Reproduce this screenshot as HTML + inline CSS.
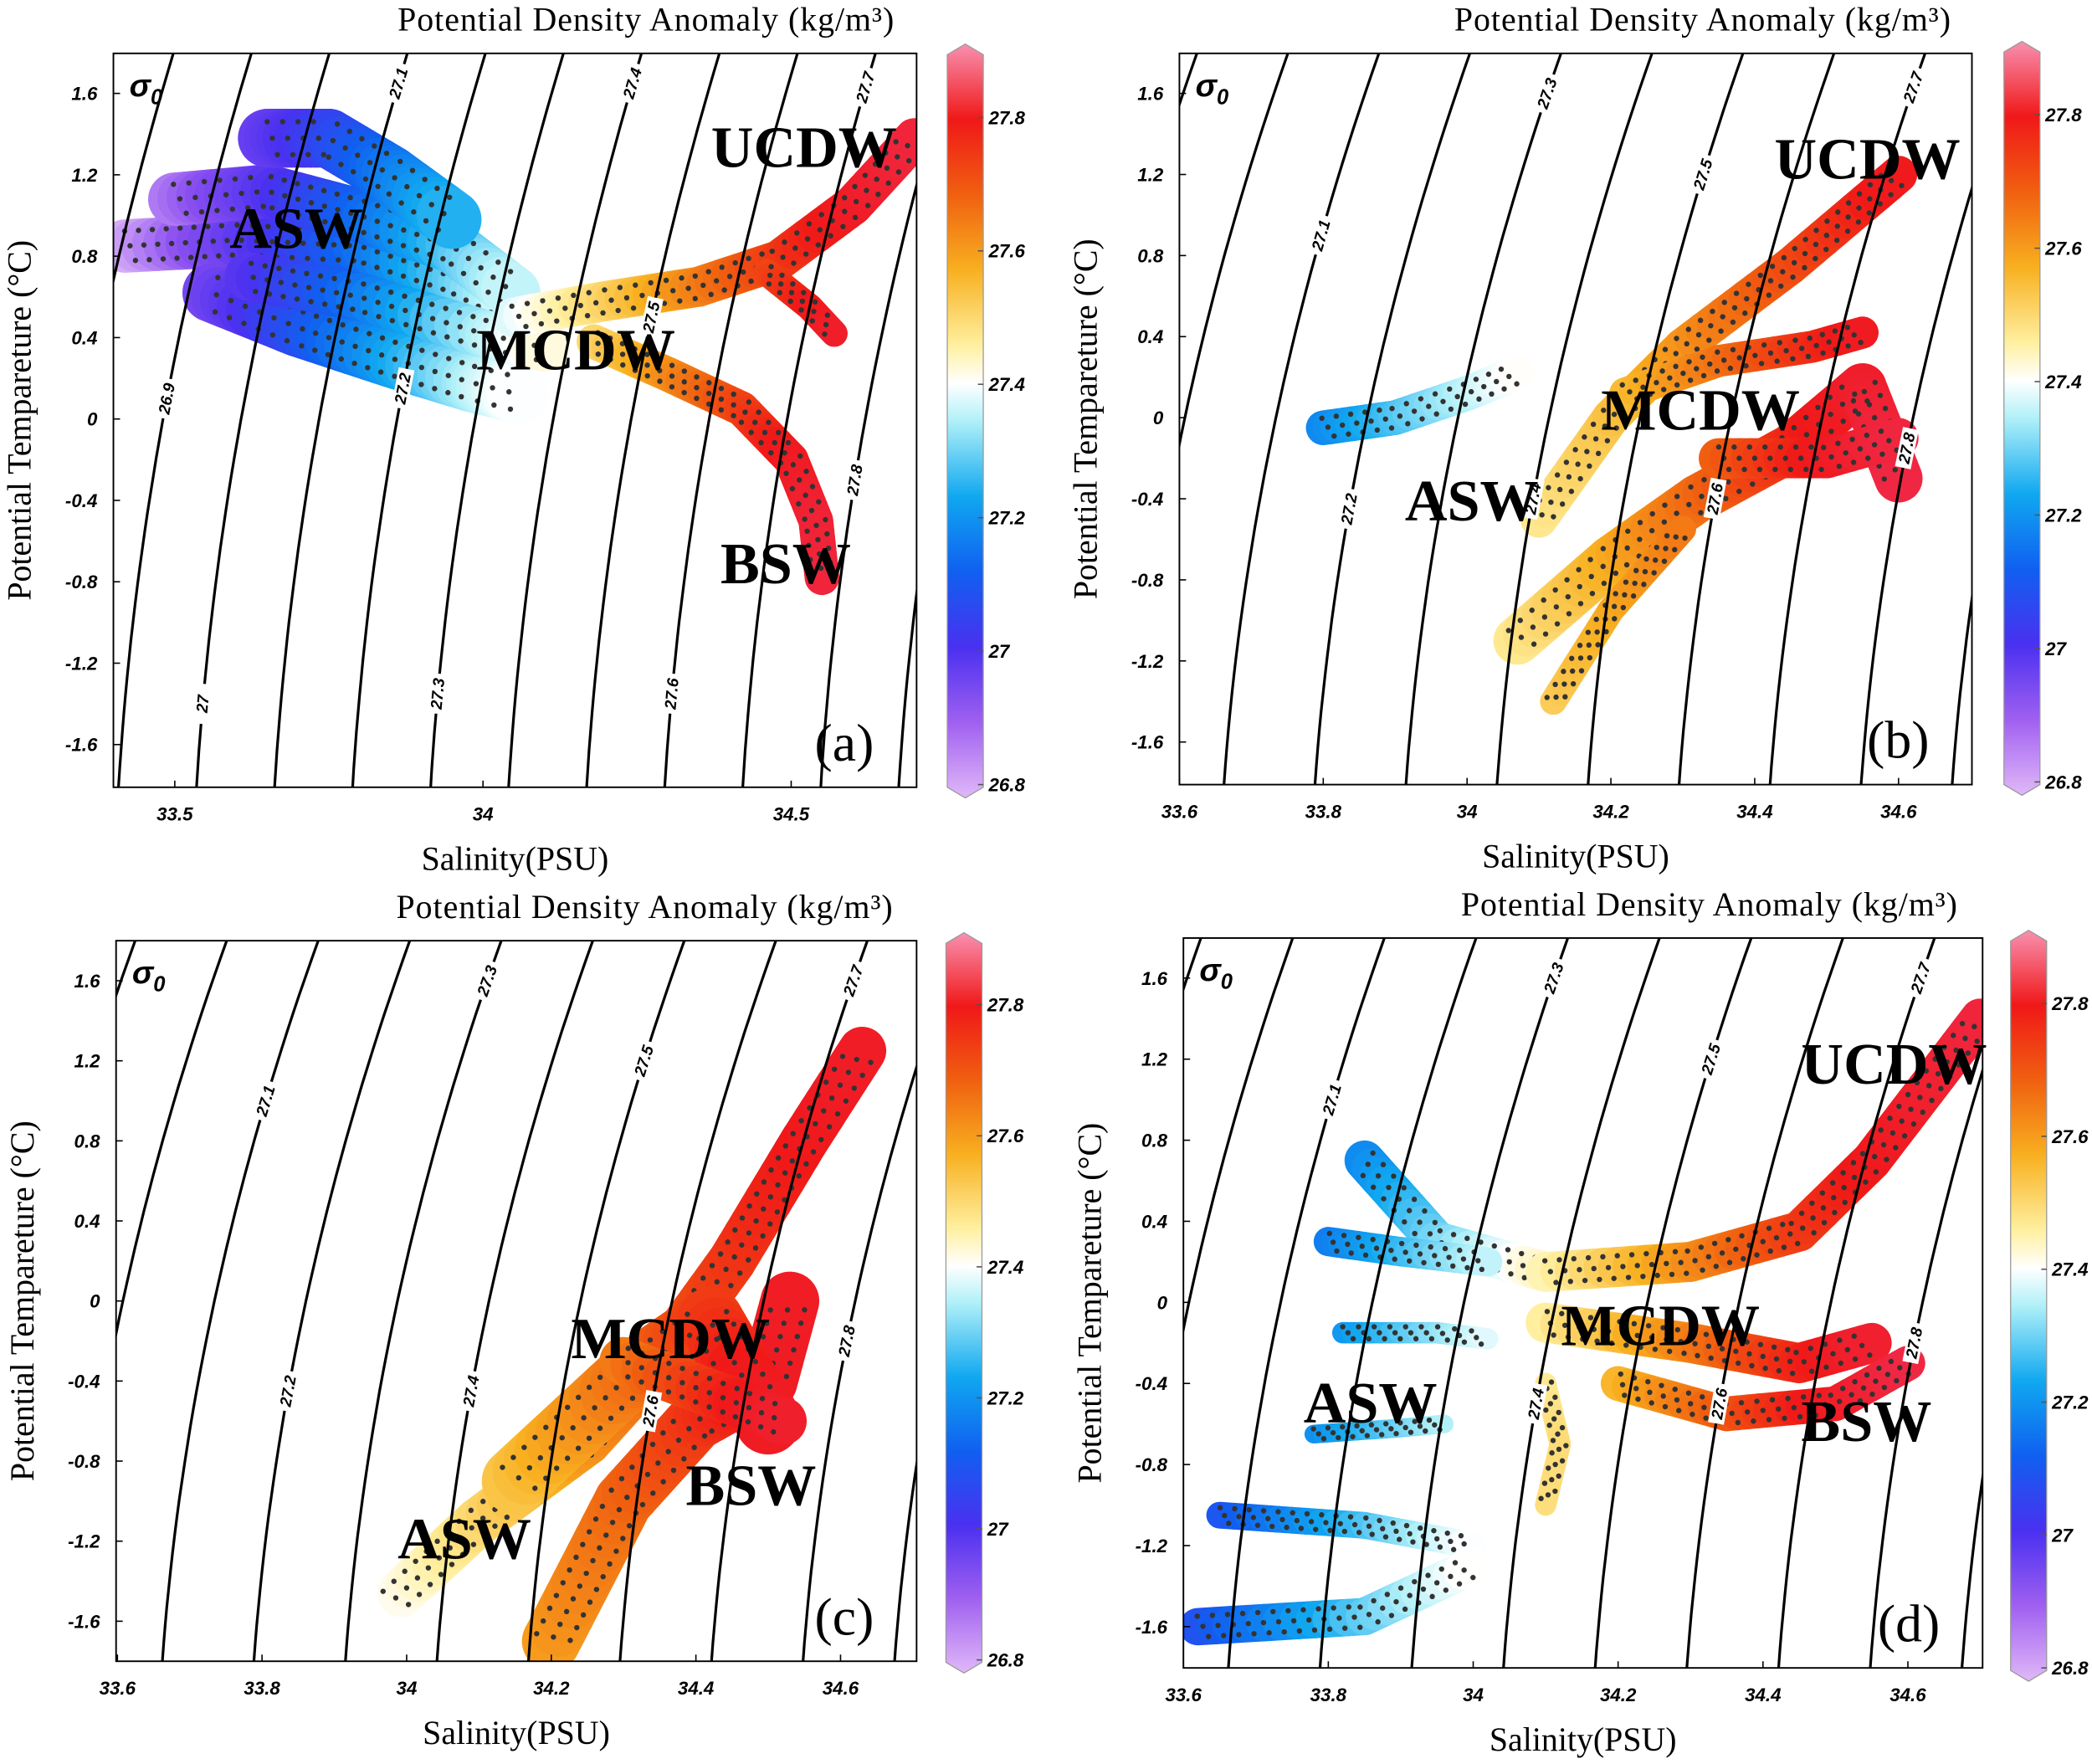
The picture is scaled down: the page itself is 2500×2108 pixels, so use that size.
<!DOCTYPE html>
<html><head><meta charset="utf-8"><style>
html,body{margin:0;padding:0;background:#fff}
svg{display:block}
</style></head><body>
<svg id="fig" xmlns="http://www.w3.org/2000/svg" width="2500" height="2108" viewBox="0 0 1568 1322" preserveAspectRatio="none">
<defs>
<linearGradient id="cbar" x1="0" y1="1" x2="0" y2="0">
<stop offset="0" stop-color="#e0b8f8"/><stop offset="0.1" stop-color="#a060f0"/><stop offset="0.2" stop-color="#4a30f0"/><stop offset="0.3" stop-color="#1060f0"/><stop offset="0.4" stop-color="#10a8f0"/><stop offset="0.5" stop-color="#b0f0f8"/><stop offset="0.55" stop-color="#ffffff"/><stop offset="0.6" stop-color="#fff0a0"/><stop offset="0.7" stop-color="#f8b020"/><stop offset="0.8" stop-color="#f06010"/><stop offset="0.9" stop-color="#f01818"/><stop offset="1" stop-color="#f890b0"/>
</linearGradient>
</defs>
</svg>
<script>
// ---- data arrays ----
const isoLevels = [26.7,26.8,26.9,27.0,27.1,27.2,27.3,27.4,27.5,27.6,27.7,27.8,27.9,28.0,28.1];
const cbarTicks = [26.8,27.0,27.2,27.4,27.6,27.8];
const cbarTickLabels = ["26.8","27","27.2","27.4","27.6","27.8"];
const tempTicks = [1.6,1.2,0.8,0.4,0,-0.4,-0.8,-1.2,-1.6];
const tempTickLabels = ["1.6","1.2","0.8","0.4","0","-0.4","-0.8","-1.2","-1.6"];
const salTicksA = [33.5,34,34.5];
const salTickLabelsA = ["33.5","34","34.5"];
const salTicksB = [33.6,33.8,34,34.2,34.4,34.6];
const salTickLabelsB = ["33.6","33.8","34","34.2","34.4","34.6"];
// water mass branches: [salinity, temperature] and band widths (px)
const branchesA = [
 [[33.42,0.85],[33.6,0.88],[33.8,0.85],[33.95,0.7],[34.05,0.55]],
 [[33.5,1.08],[33.65,1.12],[33.8,1.0],[33.95,0.85],[34.05,0.62]],
 [[33.65,1.38],[33.75,1.38],[33.85,1.2],[33.95,0.98]],
 [[33.56,0.62],[33.7,0.45],[33.85,0.3],[33.98,0.18],[34.06,0.12]],
 [[33.62,0.7],[33.8,0.6],[34.0,0.42],[34.1,0.35]],
 [[34.05,0.5],[34.2,0.58],[34.35,0.65],[34.48,0.78],[34.6,1.05],[34.7,1.38]],
 [[34.18,0.38],[34.3,0.22],[34.42,0.05],[34.5,-0.2],[34.54,-0.5],[34.55,-0.78]],
 [[34.46,0.72],[34.53,0.55],[34.57,0.42]]
];
const widthsA = [40,40,44,44,36,30,26,20];
const branchesB = [
 [[33.8,-0.05],[33.9,0.0],[34.0,0.12],[34.07,0.22]],
 [[34.1,-0.5],[34.2,0.0],[34.3,0.35],[34.45,0.75],[34.6,1.2]],
 [[34.22,0.12],[34.35,0.28],[34.48,0.35],[34.55,0.42]],
 [[34.07,-1.1],[34.2,-0.7],[34.32,-0.4],[34.45,-0.15],[34.55,0.15],[34.6,-0.3]],
 [[34.12,-1.4],[34.2,-0.95],[34.3,-0.55]],
 [[34.35,-0.2],[34.5,-0.2],[34.6,-0.1]]
];
const widthsB = [26,28,24,36,20,30];
const branchesC = [
 [[33.98,-1.5],[34.1,-1.1],[34.25,-0.7],[34.35,-0.3],[34.45,0.2],[34.55,0.8],[34.63,1.25]],
 [[34.2,-1.7],[34.3,-1.0],[34.4,-0.6],[34.5,-0.4],[34.53,0.0]],
 [[34.15,-0.9],[34.3,-0.4],[34.42,-0.1],[34.5,-0.6]],
 [[34.3,-0.3],[34.45,-0.5],[34.52,-0.6]]
];
const widthsC = [36,44,50,36];
const branchesD = [
 [[33.85,0.7],[33.95,0.3],[34.1,0.15]],
 [[33.8,0.3],[33.9,0.25],[34.02,0.2]],
 [[33.82,-0.15],[33.95,-0.15],[34.02,-0.18]],
 [[33.78,-0.65],[33.9,-0.62],[33.96,-0.6]],
 [[33.65,-1.05],[33.85,-1.1],[34.0,-1.2]],
 [[33.62,-1.6],[33.85,-1.55],[34.0,-1.3]],
 [[34.1,0.15],[34.3,0.2],[34.45,0.35],[34.55,0.7],[34.7,1.4]],
 [[34.1,-0.1],[34.3,-0.2],[34.45,-0.3],[34.55,-0.2]],
 [[34.2,-0.4],[34.35,-0.55],[34.5,-0.5],[34.6,-0.3]],
 [[34.1,-0.4],[34.12,-0.7],[34.1,-1.0]]
];
const widthsD = [30,22,16,14,20,28,30,30,26,16];

// ---- helpers ----
const NS = "http://www.w3.org/2000/svg";
const svg = document.getElementById('fig');
function mk(tag, attrs, parent){ const e=document.createElementNS(NS,tag); for(const k in attrs) e.setAttribute(k,attrs[k]); (parent||svg).appendChild(e); return e; }
function sigma(S,T){ return 27.31 + 0.79*(S-34) - 0.0473*T - 0.0087*T*T; }
function salAt(sig,T){ return 34 + (sig-27.31+0.0473*T+0.0087*T*T)/0.79; }
const cstops=[[26.8,[224,184,248]],[26.9,[140,80,240]],[27.0,[74,48,240]],[27.1,[16,96,240]],[27.2,[16,168,240]],[27.3,[176,240,248]],[27.35,[255,255,255]],[27.4,[255,240,160]],[27.5,[248,176,32]],[27.6,[240,96,16]],[27.7,[240,24,24]],[27.8,[240,40,70]],[27.9,[248,144,176]]];
function cmap(s){ if(s<=cstops[0][0]) return 'rgb('+cstops[0][1]+')'; for(let i=1;i<cstops.length;i++){ if(s<=cstops[i][0]){ const a=cstops[i-1],b=cstops[i],t=(s-a[0])/(b[0]-a[0]); return 'rgb('+a[1].map((v,j)=>Math.round(v+(b[1][j]-v)*t)).join(',')+')'; } } return 'rgb('+cstops[cstops.length-1][1]+')'; }

function panel(p){
  const g = mk('g',{});
  
  
  const sx = S => p.x0 + (S-p.s0)*p.kx;
  const ty = T => p.y16 + (1.6-T)*p.ky;
  const Tt = 1.6 + (p.y16-p.top)/p.ky, Tb = 1.6 - (p.bot-p.y16)/p.ky;
  const cid='clip'+p.id;
  const cp=mk('clipPath',{id:cid},g); mk('rect',{x:p.left,y:p.top,width:p.right-p.left,height:p.bot-p.top},cp);
  const plot=mk('g',{'clip-path':'url(#'+cid+')'},g);
  
  
  p.br.forEach((br,bi)=>{
    const bg=mk('g',{},plot);
    
    
    for(let i=0;i<br.length-1;i++){
      const [S1,T1]=br[i],[S2,T2]=br[i+1];
      const n=10;
      for(let k=0;k<n;k++){
        const a=k/n,b=(k+1)/n;
        const Sa=S1+(S2-S1)*a,Ta=T1+(T2-T1)*a,Sb=S1+(S2-S1)*b,Tb2=T1+(T2-T1)*b;
        const seg=mk('line',{x1:sx(Sa),y1:ty(Ta),x2:sx(Sb),y2:ty(Tb2),stroke:cmap(sigma((Sa+Sb)/2,(Ta+Tb2)/2)),'stroke-width':p.w[bi],'stroke-linecap':'round'},bg);
        
        
      }
    }
    for(let i=0;i<br.length-1;i++){
      const [S1,T1]=br[i],[S2,T2]=br[i+1];
      const x1=sx(S1),y1=ty(T1),x2=sx(S2),y2=ty(T2);
      const L=Math.hypot(x2-x1,y2-y1), n=Math.max(2,Math.round(L/11));
      const nx=-(y2-y1)/L, ny=(x2-x1)/L;
      [-0.28,0,0.28].forEach((o,oi)=>{
        for(let k=0;k<n;k++){
          const t=(k+oi*0.33)/n;
          const d=mk('circle',{cx:x1+(x2-x1)*t+nx*o*p.w[bi],cy:y1+(y2-y1)*t+ny*o*p.w[bi],r:2,fill:'#333'},bg);
          
          
        }
      });
    }
  });
  isoLevels.forEach(lv=>{
    let d='';
    for(let i=0;i<=40;i++){ const T=Tb+(Tt-Tb)*i/40; d+=(i?'L':'M')+sx(salAt(lv,T)).toFixed(1)+' '+ty(T).toFixed(1); }
    const l=mk('path',{d:d,fill:'none',stroke:'#000','stroke-width':2},plot);
    
    
  });
  p.iso.forEach(([lv,T])=>{
    const S=salAt(lv,T), x=sx(S), y=ty(T);
    const dx=sx(salAt(lv,T+0.1))-x, dy=ty(T+0.1)-y;
    const ang=Math.atan2(dy,dx)*180/Math.PI;
    mk('rect',{x:x-15,y:y-6,width:30,height:12,fill:'#fff',transform:'rotate('+ang+' '+x+' '+y+')'},plot);
    const t=mk('text',{x:x,y:y+4,'text-anchor':'middle','font-size':12,'font-style':'italic','font-weight':'bold','font-family':'Liberation Sans, sans-serif',transform:'rotate('+ang+' '+x+' '+y+')'},plot);
    t.textContent=(lv%1===0)?String(lv):lv.toFixed(1);
    
    
  });
  const fr=mk('rect',{x:p.left,y:p.top,width:p.right-p.left,height:p.bot-p.top,fill:'none',stroke:'#000','stroke-width':1.2},g);
  
  
  tempTicks.forEach((T,i)=>{
    const y=ty(T);
    mk('line',{x1:p.left,y1:y,x2:p.left+5,y2:y,stroke:'#000'},g);
    const t=mk('text',{x:p.left-12,y:y+5,'text-anchor':'end','font-size':14,'font-style':'italic','font-weight':'bold','font-family':'Liberation Sans, sans-serif'},g);
    t.textContent=tempTickLabels[i];
    
    
  });
  p.st.forEach((S,i)=>{
    const x=sx(S);
    mk('line',{x1:x,y1:p.bot,x2:x,y2:p.bot-5,stroke:'#000'},g);
    const t=mk('text',{x:x,y:p.bot+25,'text-anchor':'middle','font-size':14,'font-style':'italic','font-weight':'bold','font-family':'Liberation Sans, sans-serif'},g);
    t.textContent=p.stl[i];
    
    
  });
  const xt=mk('text',{x:(p.left+p.right)/2,y:p.bot+62,'text-anchor':'middle','font-size':25,'font-family':'Liberation Serif, serif'},g);
  xt.textContent='Salinity(PSU)';
  
  
  const yx=p.left-62, yy=(p.top+p.bot)/2;
  const yt=mk('text',{x:yx,y:yy,'text-anchor':'middle','font-size':25,'font-family':'Liberation Serif, serif',transform:'rotate(-90 '+yx+' '+yy+')'},g);
  yt.textContent='Potential Tempareture (°C)';
  
  
  const tt=mk('text',{x:p.cbx-40,y:p.top-17,'text-anchor':'end','font-size':25,'textLength':372,'font-family':'Liberation Serif, serif'},g);
  tt.textContent='Potential Density Anomaly (kg/m³)';
  
  
  const sg=mk('text',{x:p.left+12,y:p.top+32,'font-size':24,'font-weight':'bold','font-style':'italic','font-family':'Liberation Sans, sans-serif'},g);
  sg.innerHTML='σ<tspan font-size="16" dy="6">0</tspan>';
  
  
  const pl=mk('text',{x:p.right-32,y:p.bot-20,'text-anchor':'end','font-size':40,'font-family':'Liberation Serif, serif'},g);
  pl.textContent='('+p.id+')';
  
  
  p.wm.forEach(([name,x,y])=>{
    const t=mk('text',{x:x,y:y,'font-size':44,'font-weight':'bold','font-family':'Liberation Serif, serif'},g);
    t.textContent=name;
    
    
  });
  const cb=mk('g',{},g);
  
  
  const cy=v=>p.cb268-(v-26.8)*p.cbk;
  const yTop=cy(27.91), yBot=cy(26.78), w=27, x=p.cbx;
  mk('path',{d:`M${x} ${yTop+8} L${x+w/2} ${yTop} L${x+w} ${yTop+8} L${x+w} ${yBot-8} L${x+w/2} ${yBot} L${x} ${yBot-8} Z`,fill:'url(#cbar)',stroke:'#999','stroke-width':0.8},cb);
  cbarTicks.forEach((v,i)=>{
    const y=cy(v);
    mk('line',{x1:x+w-4,y1:y,x2:x+w,y2:y,stroke:'#555'},cb);
    const t=mk('text',{x:x+w+4,y:y+5,'font-size':14,'font-style':'italic','font-weight':'bold','font-family':'Liberation Sans, sans-serif'},cb);
    t.textContent=cbarTickLabels[i];
    
    
  });
}

panel({id:'a',left:85,right:687,top:40,bot:590,s0:33.5,x0:131,kx:462,y16:70,ky:152.5,st:salTicksA,stl:salTickLabelsA,br:branchesA,w:widthsA,
  iso:[[26.9,0.1],[27.0,-1.4],[27.1,1.65],[27.2,0.15],[27.3,-1.35],[27.4,1.65],[27.5,0.5],[27.6,-1.35],[27.7,1.63],[27.8,-0.3]],
  wm:[['ASW',172,186],['UCDW',533,125],['MCDW',357,277],['BSW',540,437]],cbx:710,cb268:588,cbk:500});
panel({id:'b',left:884,right:1478,top:40,bot:588,s0:33.6,x0:884,kx:539,y16:70,ky:151.9,st:salTicksB,stl:salTickLabelsB,br:branchesB,w:widthsB,
  iso:[[27.1,0.9],[27.2,-0.45],[27.3,1.6],[27.4,-0.4],[27.5,1.2],[27.6,-0.4],[27.7,1.63],[27.8,-0.15]],
  wm:[['UCDW',1330,134],['MCDW',1200,322],['ASW',1053,390]],cbx:1502,cb268:586,cbk:500});
panel({id:'c',left:87,right:687,top:705,bot:1245,s0:33.6,x0:88,kx:542,y16:735,ky:150,st:salTicksB,stl:salTickLabelsB,br:branchesC,w:widthsC,
  iso:[[27.1,1.0],[27.2,-0.45],[27.3,1.6],[27.4,-0.45],[27.5,1.2],[27.6,-0.55],[27.7,1.6],[27.8,-0.2]],
  wm:[['MCDW',428,1018],['BSW',514,1128],['ASW',298,1168]],cbx:709,cb268:1244,cbk:491});
panel({id:'d',left:887,right:1486,top:703,bot:1250,s0:33.6,x0:887,kx:543,y16:733,ky:151.9,st:salTicksB,stl:salTickLabelsB,br:branchesD,w:widthsD,
  iso:[[27.1,1.0],[27.3,1.6],[27.4,-0.5],[27.5,1.2],[27.6,-0.5],[27.7,1.6],[27.8,-0.2]],
  wm:[['UCDW',1350,812],['MCDW',1170,1008],['ASW',977,1066],['BSW',1350,1080]],cbx:1507,cb268:1250,cbk:498});
</script>
</body></html>
